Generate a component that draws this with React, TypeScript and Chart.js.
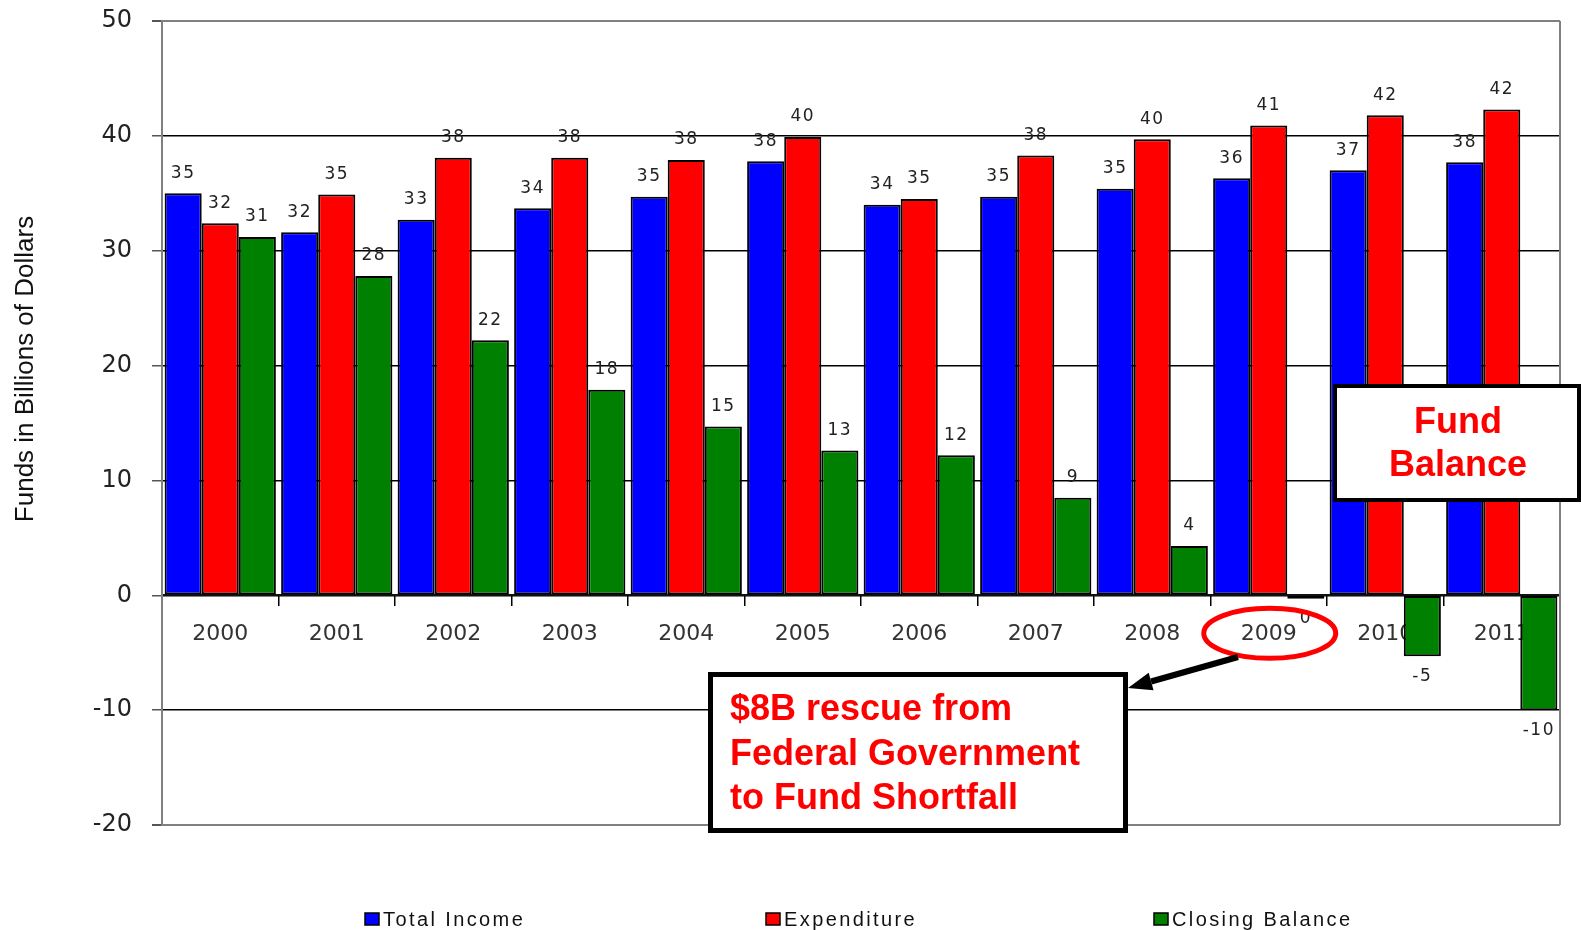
import React, { useEffect, useRef } from 'react';
import { Chart, registerables } from 'chart.js';

Chart.register(...registerables);

const years = ['2000', '2001', '2002', '2003', '2004', '2005', '2006', '2007', '2008', '2009', '2010', '2011'];
const totalIncome = [35.0, 31.6, 32.7, 33.7, 34.7, 37.8, 34.0, 34.7, 35.4, 36.3, 37.0, 37.7];
const expenditure = [32.4, 34.9, 38.1, 38.1, 37.9, 39.9, 34.5, 38.3, 39.7, 40.9, 41.8, 42.3];
const closingBalance = [31.2, 27.8, 22.2, 17.9, 14.7, 12.6, 12.2, 8.5, 4.3, -0.3, -5.3, -10.0];
const yTickValues = [50, 40, 30, 20, 10, 0, -10, -20];
const seriesNames = ['Total Income', 'Expenditure', 'Closing Balance'];
const seriesColors = ['#0000FF', '#FF0000', '#008000'];
const yTitle = 'Funds in Billions of Dollars';
const fundNote = ['Fund', 'Balance'];
const rescueNote = ['$8B rescue from', 'Federal Government', 'to Fund Shortfall'];
const highlightedYearIndex = 9;

const borderPlugin = {
  id: 'plotBorder',
  beforeDatasetsDraw(chart: any) {
    const { ctx, chartArea } = chart;
    ctx.save();
    ctx.strokeStyle = '#808080';
    ctx.lineWidth = 2;
    ctx.beginPath();
    ctx.moveTo(chartArea.right, chartArea.top);
    ctx.lineTo(chartArea.right, chartArea.bottom);
    ctx.stroke();
    ctx.restore();
  },
};

const valueLabelPlugin = {
  id: 'valueLabels',
  afterDatasetsDraw(chart: any) {
    const { ctx } = chart;
    ctx.save();
    ctx.font = '17px "DejaVu Sans"';
    (ctx as any).letterSpacing = '1.5px';
    ctx.fillStyle = '#222';
    ctx.textAlign = 'center';
    ctx.textBaseline = 'middle';
    chart.data.datasets.forEach((ds: any, di: number) => {
      const meta = chart.getDatasetMeta(di);
      meta.data.forEach((el: any, i: number) => {
        const v = ds.data[i];
        const r = Math.round(v);
        const txt = String(r === 0 ? 0 : r);
        const y = v >= 0 ? el.y - 20 : el.y + 20;
        ctx.fillText(txt, el.x, y);
      });
    });
    ctx.restore();
  },
};

const decorPlugin = {
  id: 'decor',
  afterDraw(chart: any) {
    const { ctx } = chart;
    const xs = chart.scales.x;
    const ys = chart.scales.y;
    const zero = ys.getPixelForValue(0);
    ctx.save();

    // y axis title
    ctx.save();
    ctx.translate(26, 369);
    ctx.rotate(-Math.PI / 2);
    ctx.font = '26px "Liberation Sans", Arial, sans-serif';
    ctx.fillStyle = '#111';
    ctx.textAlign = 'center';
    ctx.textBaseline = 'middle';
    ctx.fillText(yTitle, 0, 0);
    ctx.restore();

    // legend
    const legendX = [365, 766, 1154];
    const legendY = 919;
    ctx.font = '20px "Liberation Sans", Arial, sans-serif';
    (ctx as any).letterSpacing = '2.4px';
    ctx.textAlign = 'left';
    ctx.textBaseline = 'middle';
    seriesNames.forEach((name, i) => {
      ctx.fillStyle = seriesColors[i];
      ctx.fillRect(legendX[i], legendY - 6, 14, 12);
      ctx.strokeStyle = '#000';
      ctx.lineWidth = 1.5;
      ctx.strokeRect(legendX[i], legendY - 6, 14, 12);
      ctx.fillStyle = '#111';
      ctx.fillText(name, legendX[i] + 18, legendY + 1);
    });
    (ctx as any).letterSpacing = '0px';

    // Fund Balance box
    ctx.fillStyle = '#fff';
    ctx.fillRect(1335, 386, 244, 114);
    ctx.strokeStyle = '#000';
    ctx.lineWidth = 4;
    ctx.strokeRect(1335, 386, 244, 114);
    ctx.fillStyle = '#FF0000';
    ctx.font = 'bold 36px "Liberation Sans", Arial, sans-serif';
    ctx.textAlign = 'center';
    ctx.textBaseline = 'alphabetic';
    ctx.fillText(fundNote[0], 1458, 433);
    ctx.fillText(fundNote[1], 1458, 476);

    // rescue box
    ctx.fillStyle = '#fff';
    ctx.fillRect(710.5, 674.5, 415, 156);
    ctx.strokeStyle = '#000';
    ctx.lineWidth = 5;
    ctx.strokeRect(710.5, 674.5, 415, 156);
    ctx.fillStyle = '#FF0000';
    ctx.textAlign = 'left';
    ctx.fillText(rescueNote[0], 730, 720);
    ctx.fillText(rescueNote[1], 730, 765);
    ctx.fillText(rescueNote[2], 730, 809);

    // ellipse around highlighted year
    const ex = xs.getPixelForValue(highlightedYearIndex) + 1;
    const ey = zero + 38;
    ctx.strokeStyle = '#FF0000';
    ctx.lineWidth = 5;
    ctx.beginPath();
    ctx.ellipse(ex, ey, 66, 25, 0, 0, Math.PI * 2);
    ctx.stroke();

    // arrow
    const sx = 1238, sy = 657, tx = 1128, ty = 688;
    const ang = Math.atan2(ty - sy, tx - sx);
    const headLen = 24, headW = 9;
    const bx = tx - headLen * Math.cos(ang);
    const by = ty - headLen * Math.sin(ang);
    ctx.strokeStyle = '#000';
    ctx.lineWidth = 6;
    ctx.beginPath();
    ctx.moveTo(sx, sy);
    ctx.lineTo(bx, by);
    ctx.stroke();
    ctx.fillStyle = '#000';
    ctx.beginPath();
    ctx.moveTo(tx, ty);
    ctx.lineTo(bx + headW * Math.sin(ang), by - headW * Math.cos(ang));
    ctx.lineTo(bx - headW * Math.sin(ang), by + headW * Math.cos(ang));
    ctx.closePath();
    ctx.fill();

    ctx.restore();
  },
};

export default function App() {
  const canvasRef = useRef<HTMLCanvasElement | null>(null);

  useEffect(() => {
    document.body.style.margin = '0';
    const canvas = canvasRef.current;
    if (!canvas) return;
    const seriesData = [totalIncome, expenditure, closingBalance];
    const chart = new Chart(canvas, {
      type: 'bar',
      data: {
        labels: years,
        datasets: seriesNames.map((name, i) => ({
          label: name,
          data: seriesData[i],
          backgroundColor: seriesColors[i],
          borderColor: '#000',
          borderWidth: 2,
          borderSkipped: false,
          barPercentage: 1.0,
          categoryPercentage: 0.955,
        })),
      },
      options: {
        responsive: false,
        animation: false,
        devicePixelRatio: 1,
        layout: { padding: { top: 21, right: 21, bottom: 105, left: 0 } },
        plugins: {
          legend: { display: false },
          tooltip: { enabled: false },
          title: { display: false },
        },
        scales: {
          x: {
            type: 'category',
            position: { y: 0 } as any,
            offset: true,
            grid: {
              display: true,
              drawOnChartArea: false,
              drawTicks: true,
              tickLength: 10,
              color: '#000',
              lineWidth: 1.5,
              offset: true,
            },
            border: { display: true, color: '#111', width: 2 },
            ticks: {
              font: { family: '"DejaVu Sans", sans-serif', size: 22 },
              color: '#333',
              padding: 16,
              maxRotation: 0,
              autoSkip: false,
            },
          },
          y: {
            min: -20,
            max: 50,
            afterFit: (s: any) => {
              s.width = 162;
              s.paddingTop = 12;
              s.paddingBottom = 12;
            },
            afterBuildTicks: (s: any) => { s.ticks = yTickValues.map((v) => ({ value: v })); },
            grid: {
              color: (c: any) => (c.tick && (c.tick.value === 50 || c.tick.value === -20) ? '#808080' : '#000'),
              lineWidth: (c: any) => (c.tick && (c.tick.value === 50 || c.tick.value === -20) ? 2 : 1.5),
              tickLength: 10,
              tickColor: '#555',
              drawTicks: true,
            },
            border: { display: true, color: '#808080', width: 2 },
            ticks: {
              font: { family: '"DejaVu Sans", sans-serif', size: 24 },
              color: '#222',
              padding: 20,
            },
          },
        },
      },
      plugins: [borderPlugin, valueLabelPlugin, decorPlugin],
    });
    return () => chart.destroy();
  }, []);

  return (
    <div style={{ width: 1581, height: 930, background: '#fff' }}>
      <canvas ref={canvasRef} width={1581} height={930} style={{ display: 'block' }} />
    </div>
  );
}
